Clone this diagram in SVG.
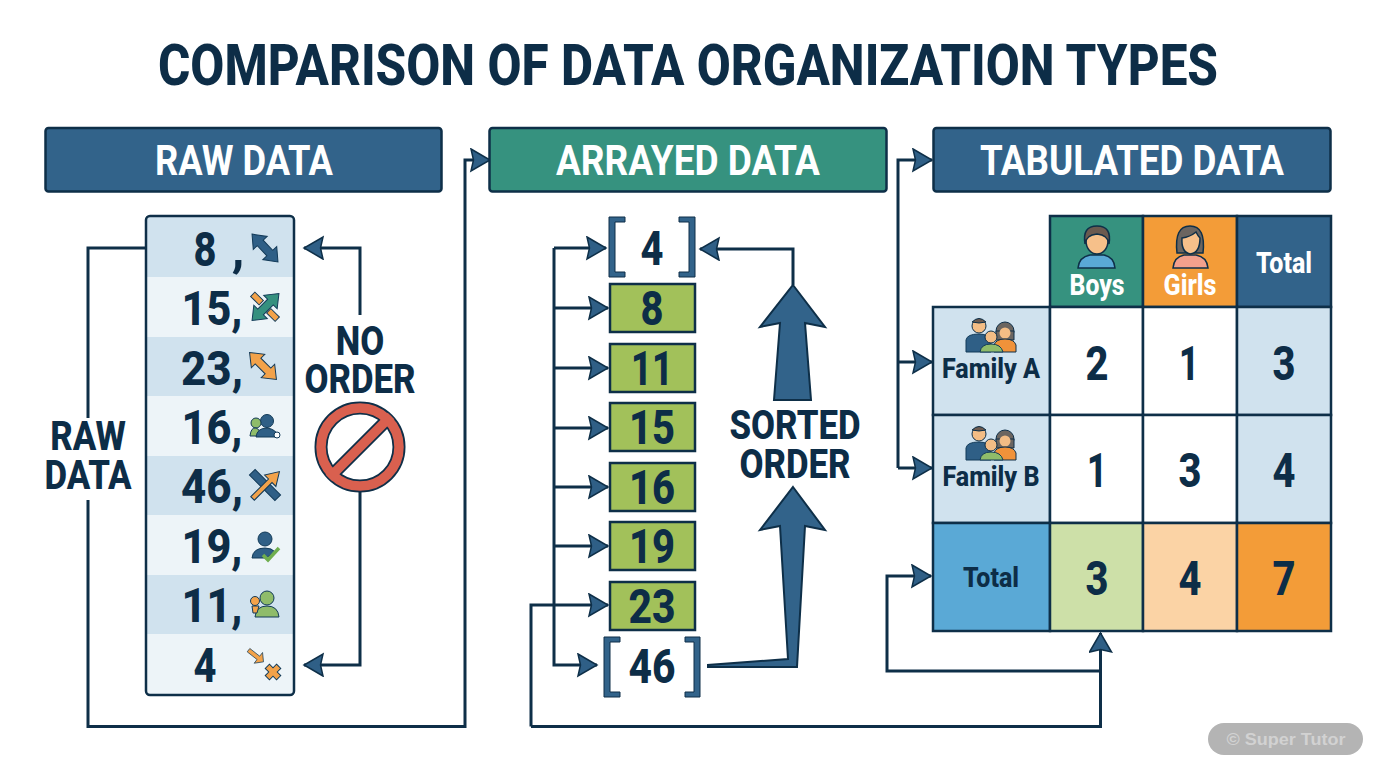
<svg xmlns="http://www.w3.org/2000/svg" width="1376" height="768" viewBox="0 0 1376 768">
<style>
text{font-family:"Roboto","Liberation Sans",sans-serif;font-weight:800;fill:#0d2d47;text-anchor:middle}
.hd{fill:#fff;font-size:42px;font-weight:700}
.n{font-size:49px}
.lab{font-size:40px}
.c{fill:none;stroke:#0e2f48;stroke-width:3}
.box{stroke:#0e2f48;stroke-width:2.5}
.cell{stroke:#0e2f48;stroke-width:2.5}
.w{fill:#fff}
.o{fill:#f2a24a;stroke:#123a58}
.b{fill:#2f5f86;stroke:#123a58}
.t{fill:#35907f;stroke:#123a58}
.g{fill:#8fbc6a;stroke:#123a58}
.f{fill:#f3bd85;stroke:#0e2f48}
</style>
<defs>
<marker id="ah" markerUnits="userSpaceOnUse" markerWidth="24" markerHeight="26" refX="21" refY="12" orient="auto"><path d="M2 1L21 12L2 23L4.500 12Z" fill="#2f5f86" stroke="#0e2f48" stroke-width="1.500"/></marker>
<path id="da" d="M-19 0L-7 -9.500V-4H7V-9.500L19 0L7 9.500V4H-7V9.500Z"/>
<path id="sa" d="M-19 -2.500H6V-8L19 0L6 8V2.500H-19Z"/>
<g id="fam"><circle cx="-11" cy="-11" r="7" class="f"/><path d="M-18 -15Q-11 -22 -4 -15Q-11 -13 -18 -15Z" fill="#6b5a4f" stroke="#0e2f48"/><path d="M-24 15V3Q-23 -3 -11 -3Q0 -3 1 5V15Z" class="b"/><circle cx="15" cy="-6" r="9" fill="#6b6560" stroke="#0e2f48"/><path d="M6 -6V3H24V-6Z" fill="#6b6560" stroke="#0e2f48"/><circle cx="15" cy="-4" r="5.500" fill="#f3bd85"/><path d="M4 15V8Q6 2 15 2Q24 2 26 8V15Z" fill="#f0923a" stroke="#0e2f48"/><circle cx="1" cy="0" r="6" class="f"/><path d="M-10 15Q-9 7 1 7Q11 7 13 15Z" class="g"/></g>
</defs>

<text x="0" y="0" font-size="58" id="title" transform="translate(688 85) scale(.852 1)">COMPARISON OF DATA ORGANIZATION TYPES</text>

<g id="connectors">
<path class="c" d="M146 248H88V418M88 500V726.500H465V160H490" marker-end="url(#ah)"/>
<path class="c" d="M360 315V248H304" marker-end="url(#ah)"/>
<path class="c" d="M360 492V665H304" marker-end="url(#ah)"/>
<path class="c" d="M554 248V665H597" marker-end="url(#ah)"/>
<path class="c" d="M554 248H606" marker-end="url(#ah)"/>
<path class="c" d="M554 308H608" marker-end="url(#ah)"/>
<path class="c" d="M554 368H608" marker-end="url(#ah)"/>
<path class="c" d="M554 428H608" marker-end="url(#ah)"/>
<path class="c" d="M554 487H608" marker-end="url(#ah)"/>
<path class="c" d="M554 546H608" marker-end="url(#ah)"/>
<path class="c" d="M531 726.500V605H608" marker-end="url(#ah)"/>
<path class="c" d="M531 726.500H1100.500V633" marker-end="url(#ah)"/>
<path class="c" d="M1100.500 671H887V576H931" marker-end="url(#ah)"/>
<path class="c" d="M898 468V160H932" marker-end="url(#ah)"/>
<path class="c" d="M898 362H932" marker-end="url(#ah)"/>
<path class="c" d="M898 468H932" marker-end="url(#ah)"/>
<path class="c" d="M793 285V249H700" marker-end="url(#ah)"/>
</g>

<g id="raw-header"><rect class="box" x="45.500" y="128" width="396" height="63.500" rx="3" fill="#32638a"/><text class="hd" x="244" y="175" textLength="178" lengthAdjust="spacingAndGlyphs">RAW DATA</text></g>
<g id="arrayed-header"><rect class="box" x="489.500" y="128" width="397" height="63.500" rx="3" fill="#36927f"/><text class="hd" x="688" y="175" textLength="264" lengthAdjust="spacingAndGlyphs">ARRAYED DATA</text></g>
<g id="tabulated-header"><rect class="box" x="933.500" y="128" width="397" height="63.500" rx="3" fill="#32638a"/><text class="hd" x="1132" y="175" textLength="304" lengthAdjust="spacingAndGlyphs">TABULATED DATA</text></g>

<g id="raw-list">
<rect x="146" y="216" width="148" height="479" rx="4" fill="#edf4f8"/>
<rect x="147" y="217" width="146" height="60" fill="#d0e2ee"/>
<rect x="147" y="337" width="146" height="59" fill="#d0e2ee"/>
<rect x="147" y="456" width="146" height="59" fill="#d0e2ee"/>
<rect x="147" y="575" width="146" height="59" fill="#d0e2ee"/>
<rect x="146" y="216" width="148" height="479" rx="4" fill="none" stroke="#0e2f48" stroke-width="2.500"/>
<text class="n" x="205" y="266" textLength="23" lengthAdjust="spacingAndGlyphs">8</text><text class="n" x="238" y="266">,</text>
<text class="n" x="212" y="325" textLength="61" lengthAdjust="spacingAndGlyphs">15,</text>
<text class="n" x="212" y="385" textLength="62" lengthAdjust="spacingAndGlyphs">23,</text>
<text class="n" x="212" y="444" textLength="61" lengthAdjust="spacingAndGlyphs">16,</text>
<text class="n" x="212" y="503" textLength="62" lengthAdjust="spacingAndGlyphs">46,</text>
<text class="n" x="212" y="563" textLength="61" lengthAdjust="spacingAndGlyphs">19,</text>
<text class="n" x="212" y="622" textLength="61" lengthAdjust="spacingAndGlyphs">11,</text>
<text class="n" x="205" y="682" textLength="23" lengthAdjust="spacingAndGlyphs">4</text>
<use href="#da" class="b" transform="translate(265 248) rotate(47)"/>
<g><rect x="-6" y="-3" width="12" height="6" class="o" transform="translate(257 298.500) rotate(45)"/><rect x="-6" y="-3" width="12" height="6" class="o" transform="translate(273 315) rotate(45)"/><use href="#da" class="t" transform="translate(265.500 307) rotate(-45)"/></g>
<use href="#da" class="o" transform="translate(263 366) rotate(45)"/>
<g><circle cx="267" cy="421" r="6.500" class="b"/><circle cx="256" cy="423" r="5" class="g"/><path d="M250 436Q251 427 256 428Q260 429 260 436Z" class="g"/><path d="M256 437Q257 428 267 428Q276 429 279 437Z" class="b"/><circle cx="277" cy="435" r="3" fill="#fff" stroke="#123a58"/></g>
<g><rect x="-18" y="-4" width="36" height="8" class="b" transform="translate(265 485) rotate(45)"/><use href="#sa" class="o" transform="translate(266 485) rotate(-45)"/></g>
<g><circle cx="265" cy="539" r="7" class="b"/><path d="M252 558Q253 548 265 548Q272 548 275 552L266 558Z" class="b"/><path d="M263 555L268 560L279 548" fill="none" stroke="#6fae4e" stroke-width="3.500"/></g>
<g><circle cx="267" cy="598" r="7" class="g"/><path d="M255 617Q256 606 267 606Q278 606 279 617Z" class="g"/><circle cx="255" cy="601" r="4.500" class="o"/><path d="M252 606H259L257 613H253Z" class="o"/></g>
<g><use href="#sa" class="o" transform="translate(256 656) rotate(38) scale(.5 .85)"/><path d="M-3 -8H3V-3H8V3H3V8H-3V3H-8V-3H-3Z" class="o" transform="translate(273 672) rotate(45)"/></g>
</g>

<g id="raw-data-label"><text class="lab" transform="translate(88 0) scale(.87 1)"><tspan x="0" y="450">RAW</tspan><tspan x="0" y="489">DATA</tspan></text></g>
<g id="no-order"><text class="lab" transform="translate(360 0) scale(.87 1)"><tspan x="0" y="355">NO</tspan><tspan x="0" y="393">ORDER</tspan></text>
<g fill="none" transform="translate(360 447)"><circle r="39" stroke="#0e2f48" stroke-width="13"/><path d="M-27 27L27 -27" stroke="#0e2f48" stroke-width="13"/><circle r="39" stroke="#d9604f" stroke-width="9.500"/><path d="M-31 31L31 -31" stroke="#d9604f" stroke-width="9.500"/></g></g>

<g id="arrayed-list">
<g fill="#32638a" stroke="#0e2f48" stroke-width="1"><path d="M609 217H625V222H615V272H625V277H609Z"/><path d="M695 217H679V222H689V272H679V277H695Z"/><path d="M604 637H620V642H610V692H620V697H604Z"/><path d="M700 637H685V642H694V692H685V697H700Z"/></g>
<text class="n" x="652" y="265" textLength="23" lengthAdjust="spacingAndGlyphs">4</text><text class="n" x="652" y="683" textLength="47" lengthAdjust="spacingAndGlyphs">46</text>
<g class="box" fill="#a2c15a"><rect x="610" y="284" width="85" height="48"/><rect x="610" y="344" width="85" height="48"/><rect x="610" y="403" width="85" height="48"/><rect x="610" y="463" width="85" height="48"/><rect x="610" y="522" width="85" height="48"/><rect x="610" y="582" width="85" height="48"/></g>
<text class="n" x="652" y="325" textLength="23" lengthAdjust="spacingAndGlyphs">8</text><text class="n" x="652" y="385" textLength="42" lengthAdjust="spacingAndGlyphs">11</text><text class="n" x="652" y="444" textLength="46" lengthAdjust="spacingAndGlyphs">15</text><text class="n" x="652" y="504" textLength="46" lengthAdjust="spacingAndGlyphs">16</text><text class="n" x="652" y="563" textLength="46" lengthAdjust="spacingAndGlyphs">19</text><text class="n" x="652" y="623" textLength="47" lengthAdjust="spacingAndGlyphs">23</text>
</g>

<g id="sorted-order">
<path d="M793 285L825 327L805 323L811 400H774L780 323L760 327Z" fill="#32638a" stroke="#0e2f48" stroke-width="2"/>
<path d="M793 487L825 530L805 526L797 667H708V665L788 659L780 526L760 530Z" fill="#32638a" stroke="#0e2f48" stroke-width="2"/>
<text class="lab" transform="translate(795 0) scale(.87 1)"><tspan x="0" y="439">SORTED</tspan><tspan x="0" y="478">ORDER</tspan></text>
</g>

<g id="table">
<g class="cell">
<rect x="1050" y="216" width="93" height="91" fill="#36927f"/><rect x="1143" y="216" width="94" height="91" fill="#f39c38"/><rect x="1237" y="216" width="94" height="91" fill="#32638a"/>
<rect x="933" y="307" width="117" height="108" fill="#d0e2ee"/><rect x="1050" y="307" width="93" height="108" fill="#fff"/><rect x="1143" y="307" width="94" height="108" fill="#fff"/><rect x="1237" y="307" width="94" height="108" fill="#d0e2ee"/>
<rect x="933" y="415" width="117" height="108" fill="#d0e2ee"/><rect x="1050" y="415" width="93" height="108" fill="#fff"/><rect x="1143" y="415" width="94" height="108" fill="#fff"/><rect x="1237" y="415" width="94" height="108" fill="#d0e2ee"/>
<rect x="933" y="523" width="117" height="108" fill="#5aa9d6"/><rect x="1050" y="523" width="93" height="108" fill="#cde0a8"/><rect x="1143" y="523" width="94" height="108" fill="#fbd3a5"/><rect x="1237" y="523" width="94" height="108" fill="#f39c38"/>
</g>
<g stroke="#0e2f48" stroke-width="1.500"><path d="M1078 268Q1079 257 1090 255H1104Q1114 257 1115 268Z" fill="#5aa9d6"/><ellipse cx="1097" cy="241" rx="11" ry="13" fill="#f6c08a"/><path d="M1085 244Q1082 226 1097 226Q1112 226 1109 244Q1108 235 1097 234Q1086 235 1085 244Z" fill="#6b5a4f"/>
<path d="M1173 268Q1174 257 1184 255H1196Q1207 257 1208 268Z" fill="#f2a08c"/><path d="M1177 253Q1174 226 1190 226Q1206 226 1203 253Z" fill="#6b6560"/><path d="M1182 238Q1190 237 1196 232Q1198 236 1200 238Q1200 253 1190 254Q1181 252 1182 238Z" fill="#f6c08a"/></g>
<text x="1097" y="295" font-size="30" class="w" textLength="55" lengthAdjust="spacingAndGlyphs">Boys</text>
<text x="1190" y="295" font-size="30" class="w" textLength="53" lengthAdjust="spacingAndGlyphs">Girls</text>
<text x="1284" y="273" font-size="30" class="w" textLength="56" lengthAdjust="spacingAndGlyphs">Total</text>
<use href="#fam" x="990" y="337"/><use href="#fam" x="990" y="445"/>
<text x="991" y="378" font-size="28" textLength="98" lengthAdjust="spacingAndGlyphs">Family A</text>
<text x="991" y="486" font-size="28" textLength="97" lengthAdjust="spacingAndGlyphs">Family B</text>
<text x="991" y="587" font-size="28" textLength="56" lengthAdjust="spacingAndGlyphs">Total</text>
<text class="n" x="1097" y="380" textLength="23" lengthAdjust="spacingAndGlyphs">2</text><text class="n" x="1189" y="380" textLength="20" lengthAdjust="spacingAndGlyphs">1</text><text class="n" x="1284" y="380" textLength="23" lengthAdjust="spacingAndGlyphs">3</text>
<text class="n" x="1097" y="487" textLength="20" lengthAdjust="spacingAndGlyphs">1</text><text class="n" x="1190" y="487" textLength="23" lengthAdjust="spacingAndGlyphs">3</text><text class="n" x="1284" y="487" textLength="23" lengthAdjust="spacingAndGlyphs">4</text>
<text class="n" x="1097" y="595" textLength="23" lengthAdjust="spacingAndGlyphs">3</text><text class="n" x="1190" y="595" textLength="23" lengthAdjust="spacingAndGlyphs">4</text><text class="n" x="1284" y="595" textLength="23" lengthAdjust="spacingAndGlyphs">7</text>
</g>

<g id="watermark"><rect x="1208" y="723" width="155" height="32" rx="16" fill="#b4b4b4"/><text x="1286" y="745" font-size="17" textLength="119" lengthAdjust="spacingAndGlyphs" style="font-family:'Liberation Sans',sans-serif;font-weight:700;fill:#d2d2d2">© Super Tutor</text></g>
</svg>
